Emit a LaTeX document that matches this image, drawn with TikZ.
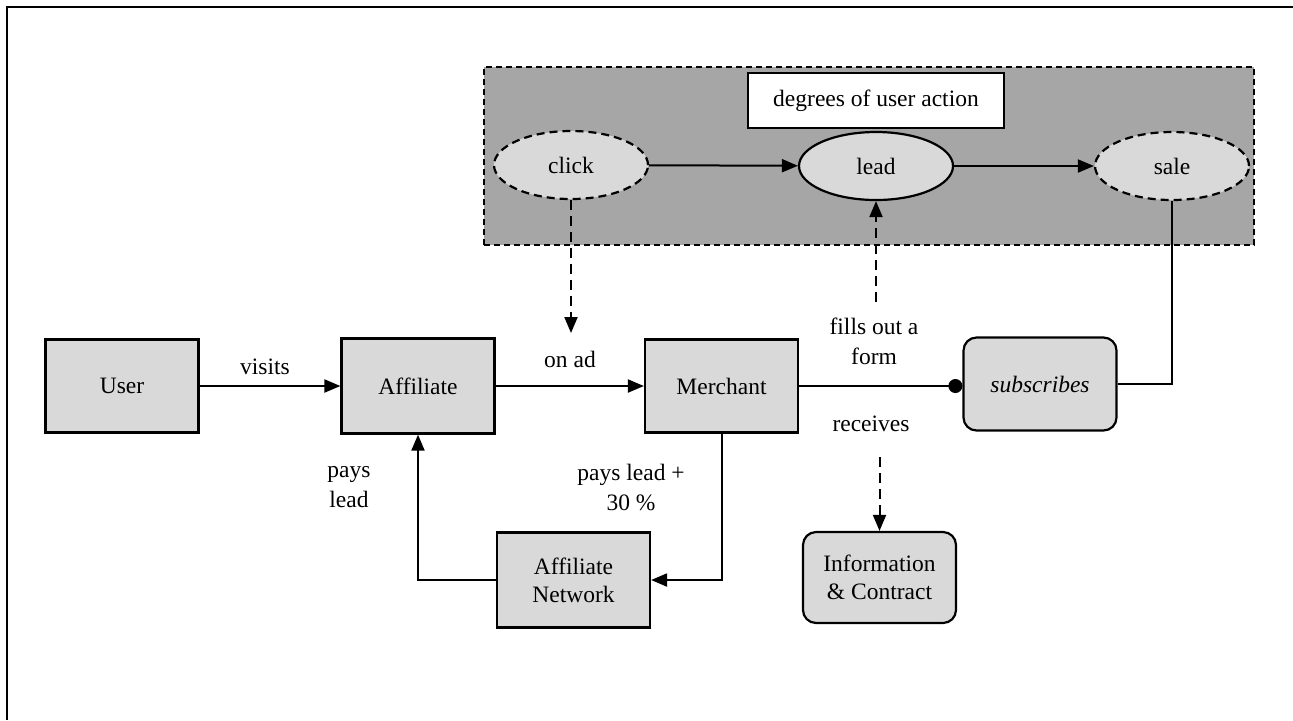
\documentclass[tikz,border=0pt]{standalone}
\usepackage{fontspec}
\setmainfont{Liberation Serif}
\usetikzlibrary{arrows.meta,shapes.geometric}
\definecolor{boxgray}{HTML}{D9D9D9}
\definecolor{groupgray}{HTML}{A6A6A6}
\begin{document}
\begin{tikzpicture}[x=0.5pt,y=-0.5pt,
  font=\fontsize{11.75}{14}\selectfont,
  box/.style={draw,line width=1.1pt,fill=boxgray,minimum width=76.5pt,minimum height=46.5pt,inner sep=0pt,align=center},
  rbox/.style={box,rounded corners=6.5pt},
  oval/.style={ellipse,draw,line width=1.1pt,fill=boxgray,minimum width=77pt,minimum height=34pt,inner sep=0pt},
  dashedoval/.style={oval,dash pattern=on 4pt off 2.5pt},
  conn/.style={line width=1pt,-{Triangle[length=8pt,width=6.5pt]}},
  dconn/.style={conn,dash pattern=on 5pt off 3pt},
  plainconn/.style={line width=1pt},
  lbl/.style={align=center,inner sep=0pt,font=\fontsize{11.75}{15}\selectfont}]
\useasboundingbox (0,0) rectangle (1293,720);
\draw[line width=1.2pt] (7,720) -- (7,7) -- (1293,7);
% group of user action degrees
\node[draw,line width=1pt,fill=groupgray,dash pattern=on 3pt off 2pt,minimum width=385pt,minimum height=89pt,inner sep=0pt] (group) at (869,156) {};
\node[draw,line width=1.1pt,fill=white,minimum width=128pt,minimum height=27.5pt,inner sep=0pt] (title) at (876,100.5) {degrees of user action};
\node[dashedoval] (click) at (571,165) {click};
\node[oval] (lead) at (876,166) {lead};
\node[dashedoval] (sale) at (1172,166) {sale};
\draw[conn] (click) -- (lead);
\draw[conn] (lead) -- (sale);
% main row
\node[box] (user) at (122,386) {User};
\node[box,minimum height=47.5pt] (aff) at (418,386) {Affiliate};
\node[box] (mer) at (721.5,386) {Merchant};
\node[rbox] (subs) at (1040,384) {\textit{subscribes}};
\node[box,minimum height=47.5pt] (an) at (573.5,580) {Affiliate\\Network};
\node[rbox,minimum height=45.5pt] (info) at (879.5,577.5) {Information\\\& Contract};
\draw[conn] (user) -- (aff);
\draw[conn] (aff) -- (mer);
\draw[plainconn,-{Circle[length=7pt]}] (mer.east) -- (mer.east -| subs.west);
\draw[plainconn] (subs.east) -| (sale.south);
\draw[conn] (mer.south) |- (an.east);
\draw[conn] (an.west) -| (aff.south);
\coordinate (onad) at (571,333);
\draw[dconn] (click.south) -- (onad);
\coordinate (formtop) at (876,302);
\draw[dconn] (formtop) -- (lead.south);
\coordinate (recv) at (879.5,457);
\draw[dconn] (recv) -- (info.north);
% labels
\node[lbl] (lvisits) at (265,367) {visits};
\node[lbl] (lonad) at (570,359) {on ad};
\node[lbl] (lpays) at (349,487) {pays\\lead};
\node[lbl] (lpaysmore) at (631,487) {pays lead +\\30 \%};
\node[lbl] (lform) at (874,341) {fills out a\\form};
\node[lbl] (lrecv) at (871,424) {receives};
\end{tikzpicture}
\end{document}
